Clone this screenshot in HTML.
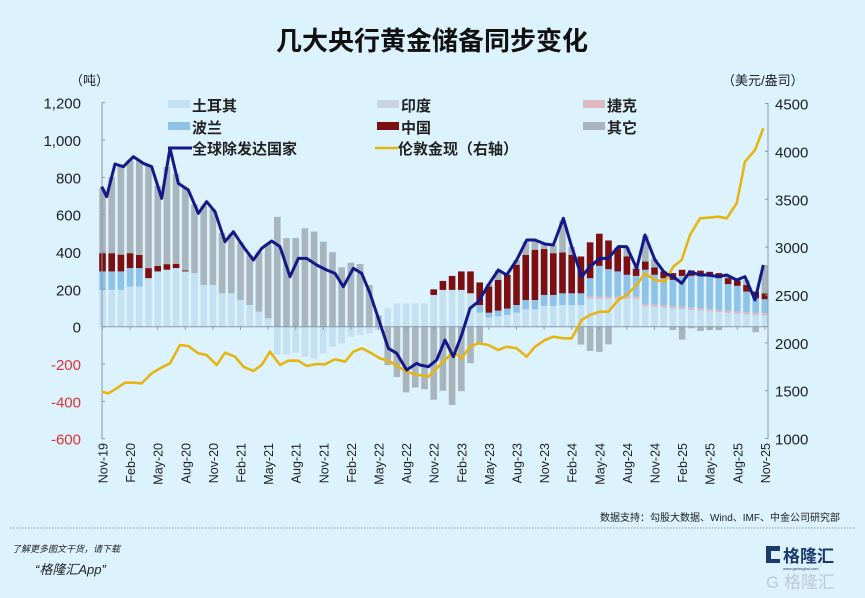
<!DOCTYPE html>
<html><head><meta charset="utf-8"><style>
html,body{margin:0;padding:0;background:#dcf2fc;}
body{width:865px;height:598px;overflow:hidden;position:relative;font-family:"Liberation Sans","Noto Sans CJK SC",sans-serif;}
</style></head><body>
<svg id="s" width="865" height="598" xmlns="http://www.w3.org/2000/svg" style="position:absolute;left:0;top:0">
<rect width="865" height="598" fill="#dcf2fc"/>
<text x="432" y="50" text-anchor="middle" font-size="26" font-weight="bold" fill="#111" font-family="Liberation Sans, Noto Sans CJK SC, sans-serif">几大央行黄金储备同步变化</text>
<text x="70" y="85" font-size="13" fill="#222" font-family="Liberation Sans, Noto Sans CJK SC, sans-serif">（吨）</text>
<text x="722" y="85" font-size="13" fill="#222" font-family="Liberation Sans, Noto Sans CJK SC, sans-serif">（美元/盎司）</text>
<g id="bars"></g><g id="axes"></g><g id="lines"></g><g id="leg"></g>
<text x="840" y="521" text-anchor="end" font-size="10" fill="#222" font-family="Liberation Sans, Noto Sans CJK SC, sans-serif">数据支持：勾股大数据、Wind、IMF、中金公司研究部</text>
<line x1="10" y1="528" x2="855" y2="528" stroke="#777" stroke-width="0.8" stroke-dasharray="1.5,1.5"/>
<text x="12" y="552" font-size="9" font-style="italic" fill="#222" font-family="Liberation Sans, Noto Sans CJK SC, sans-serif">了解更多图文干货，请下载</text>
<text x="35" y="574" font-size="13" font-style="italic" fill="#222" font-family="Liberation Sans, Noto Sans CJK SC, sans-serif">“格隆汇App”</text>
<rect x="766" y="546" width="14" height="17" fill="#1a3a70"/>
<rect x="771" y="551" width="9" height="8" fill="#dcf2fc"/>
<text x="783" y="562" font-size="17" font-weight="bold" fill="#1a3a70" font-family="Liberation Sans, Noto Sans CJK SC, sans-serif">格隆汇</text>
<text x="783" y="570" font-size="4" fill="#1a3a70">www.gelonghui.com</text>
<text x="766" y="588" font-size="17" fill="#bccbd6" font-family="Liberation Sans, Noto Sans CJK SC, sans-serif">G 格隆汇</text>
</svg>
<script>
const NS="http://www.w3.org/2000/svg";
function el(p,t,a,txt){const e=document.createElementNS(NS,t);for(const k in a)e.setAttribute(k,a[k]);if(txt!==undefined)e.textContent=txt;document.getElementById(p).appendChild(e);return e;}
const Y0=326.7,K=0.1867;const yv=v=>Y0-v*K;
const z1=[[5,290],[20,320],[45,222],[70,230],[100,200],[130,220],[155,230],[185,325],[210,175],[235,280],[265,300],[295,370],[320,335],[345,365],[375,455],[400,425],[430,470],[460,510],[485,475],[515,453],[540,470],[570,560],[595,505],[620,505],[650,525],[680,540],[705,550],[730,590],[760,535],[785,550],[810,610],[840,700],[865,775],[890,790],[920,840],[950,820]];
const z2=[[0,825],[25,830],[50,810],[75,750],[100,800],[125,735],[150,655],[175,635],[205,585],[235,540],[260,555],[290,510],[320,450],[345,450],[375,462],[400,465],[430,385],[455,470],[485,560],[510,530],[540,505],[565,505],[595,470],[620,470],[650,535],[675,435],[705,510],[735,550],[760,560],[785,580],[810,545],[840,555],[865,555],[895,560],[920,555],[950,570],[975,560],[1005,630],[1030,525]];
let bp=z1.map(p=>[100+p[0]/3,90+p[1]/3]).filter(p=>p[0]<419).concat(z2.map(p=>[420+p[0]/3,90+p[1]/3]));
const g1=[[5,905],[25,910],[50,895],[75,878],[100,878],[125,880],[155,850],[180,835],[210,820],[240,765],[265,768],[295,790],[320,795],[350,825],[375,788],[405,800],[430,830],[460,843],[485,825],[510,785],[540,825],[565,812],[595,812],[620,828],[650,822],[675,823],[705,808],[735,815],[760,785],[785,775],[815,790],[840,805],[870,815],[895,830],[920,845],[950,855]];
const g2=[[0,855],[25,860],[50,835],[75,810],[100,785],[125,805],[150,770],[175,760],[205,765],[235,780],[260,770],[290,775],[320,800],[345,770],[375,750],[400,740],[430,745],[455,745],[485,690],[510,675],[540,665],[565,665],[595,630],[620,615],[650,585],[675,550],[705,570],[735,575],[760,530],[785,510],[810,435],[840,385],[865,383],[895,380],[920,385],[950,340],[975,215],[1005,180],[1030,115]];
let gp=g1.map(p=>[100+p[0]/3,90+p[1]/3]).filter(p=>p[0]<419).concat(g2.map(p=>[420+p[0]/3,90+p[1]/3]));
function interp(pts,x){if(x<=pts[0][0])return pts[0][1];for(let i=1;i<pts.length;i++){if(x<=pts[i][0]){const a=pts[i-1],b=pts[i];return a[1]+(b[1]-a[1])*(x-a[0])/(b[0]-a[0]);}}return pts[pts.length-1][1];}
const L=[197,197,197,215,215,260,296,305,314,296,287,224,224,179,179,143,116,81,45,-150,-150,-140,-161,-170,-143,-108,-90,-54,-45,-36,-18,100,125,125,125,125,170,197,197,197,179,116,75,86,97,116,143,143,170,170,179,179,179,260,326,308,296,278,272,305,278,260,251,272,272,272,268,260,228,219,188,152,147];
const C=[98,98,90,80,70,54,30,30,23,5,0,0,0,0,0,0,0,0,0,0,0,0,0,0,0,0,0,0,0,0,0,0,0,0,0,0,30,48,75,99,117,121,140,165,181,216,242,269,246,224,219,206,197,192,172,154,125,98,38,44,39,36,36,33,29,28,26,27,32,28,36,36,32];
const Pf=[99,99,99,99,99];
for(let i=0;i<73;i++){
 const x=102.5+9.2*i, w=6.6, x0=x-w/2;
 let tot=(Y0-interp(bp,x))/K;
 let l=L[i],p=0,cz=0,c=C[i];
 if(i<5)p=Pf[i];
 if(i>=41&&i<=52){const t=l;l=Math.round(t*0.65);p=t-l;}
 if(i>=53){const t=l;let lt=i<59?150:Math.max(60,110-(i-59)*4);lt=Math.min(lt,t-20);cz=12;l=lt;p=t-lt-cz;}
 let o=tot-(l+p+cz+c);
 let up=0,dn=0;
 const seg=(v,col,neg)=>{if(v<=0)return;let a,b;if(!neg){a=up;b=up+v;up=b;}else{a=dn;b=dn-v;dn=b;}el('bars','rect',{x:x0,y:Math.min(yv(a),yv(b)),width:w,height:Math.abs(yv(a)-yv(b)),fill:col});};
 if(l>=0)seg(l,'#c3e1f2');else seg(-l,'#c3e1f2',true);
 seg(cz,'#e0b8c2');seg(p,'#8fc2e8');seg(c,'#7d0f10');
 if(o>=0)seg(o,'#a8b5bd');else seg(-o,'#a8b5bd',true);
}
el('axes','line',{x1:102,y1:103,x2:102,y2:439,stroke:'#8a98a6','stroke-width':1});
el('axes','line',{x1:102,y1:Y0,x2:768,y2:Y0,stroke:'#8a98a6','stroke-width':1});
el('axes','line',{x1:768,y1:103,x2:768,y2:439,stroke:'#8a98a6','stroke-width':1});
for(let v=-600;v<=1200;v+=200){const y=yv(v);el('axes','line',{x1:102,y1:y,x2:105,y2:y,stroke:'#8a98a6'});
 el('axes','text',{x:81,y:y+6,'text-anchor':'end','font-size':15,fill:v<0?'#e03232':'#222','font-family':'Liberation Sans, sans-serif'},v.toLocaleString('en-US'));}
for(let p=1000;p<=4500;p+=500){const y=438.5-(p-1000)*0.0957;el('axes','line',{x1:765,y1:y,x2:768,y2:y,stroke:'#8a98a6'});
 el('axes','text',{x:775,y:y+6,'font-size':15,fill:'#222','font-family':'Liberation Sans, sans-serif'},String(p));}
const mn=['Nov','Feb','May','Aug'];
for(let j=0;j<25;j++){const i=j*3;const x=102.5+9.2*i;const yr=19+Math.floor((j+3)/4);
 el('axes','line',{x1:x,y1:Y0,x2:x,y2:Y0+3,stroke:'#8a98a6'});
 el('axes','text',{x:0,y:0,transform:`translate(${x+5},443) rotate(-90)`,'text-anchor':'end','font-size':12.5,fill:'#222','font-family':'Liberation Sans, sans-serif'},mn[j%4]+'-'+yr);}
el('lines','polyline',{points:gp.map(p=>p.join(',')).join(' '),fill:'none',stroke:'#e6b511','stroke-width':2.6,'stroke-linejoin':'round'});
el('lines','polyline',{points:bp.map(p=>p.join(',')).join(' '),fill:'none',stroke:'#14198a','stroke-width':3,'stroke-linejoin':'round'});
const F='Liberation Sans, Noto Sans CJK SC, sans-serif';
const lg=[[168,105,'#c3e1f2','土耳其'],[377,105,'#c9d2e0','印度'],[583,105,'#e0b8c2','捷克'],[168,127,'#8fc2e8','波兰'],[377,127,'#7d0f10','中国'],[583,127,'#a8b5bd','其它']];
lg.forEach(a=>{el('leg','rect',{x:a[0],y:a[1]-5,width:22,height:8,fill:a[2]});el('leg','text',{x:a[0]+24,y:a[1]+6,'font-size':15,'font-weight':'bold',fill:'#222','font-family':F},a[3]);});
el('leg','line',{x1:168,y1:148,x2:192,y2:148,stroke:'#14198a','stroke-width':3});
el('leg','text',{x:192,y:154,'font-size':15,'font-weight':'bold',fill:'#222','font-family':F},'全球除发达国家');
el('leg','line',{x1:375,y1:148,x2:398,y2:148,stroke:'#e6b511','stroke-width':2.6});
el('leg','text',{x:398,y:154,'font-size':15,'font-weight':'bold',fill:'#222','font-family':F},'伦敦金现（右轴）');
</script>
</body></html>
